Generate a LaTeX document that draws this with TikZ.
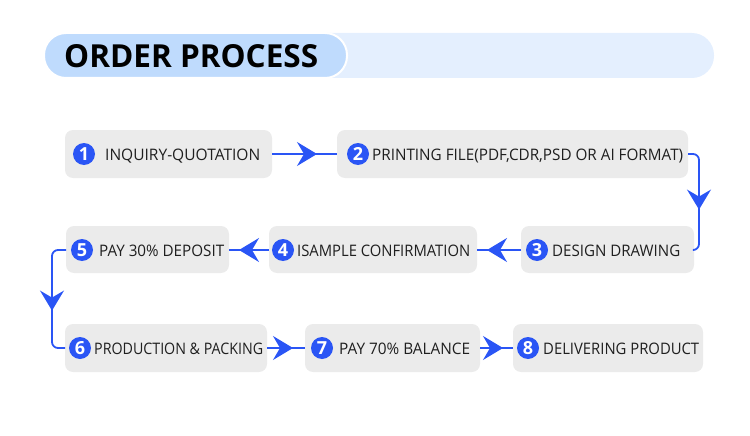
\documentclass[tikz,border=0pt]{standalone}
\usepackage{fontspec}
\setmainfont{Open Sans}
\newfontfamily\hdrfont{Open Sans}
\usetikzlibrary{arrows.meta,decorations.markings}
\definecolor{boxgray}{HTML}{EBEBEB}
\definecolor{flowblue}{HTML}{2A55F5}
\definecolor{hdrdark}{HTML}{BFDBFD}
\definecolor{hdrlight}{HTML}{E4EFFE}
\tikzset{
  stepbox/.style={fill=boxgray, rounded corners=8pt},
  numdot/.style={circle, fill=flowblue, inner sep=0pt, minimum size=22pt, text=white, font=\fontsize{18}{18}\selectfont\bfseries},
  lbl/.style={anchor=west, inner sep=0pt, text=black!88},
  flow/.style={draw=flowblue, line width=1.8pt},
  tipat/.style={postaction={decorate}, decoration={markings, mark=at position #1 with {\arrow{Stealth[length=20pt,width=24pt,inset=7pt]}}}}
}
\newcommand{\boxtext}[2]{\resizebox{#1pt}{11.5pt}{#2}}
\begin{document}
\begin{tikzpicture}[x=1pt,y=-1pt]
\useasboundingbox (0,0) rectangle (750,436);
% header
\fill[hdrlight, rounded corners=22pt] (44,33) rectangle (714,78);
\filldraw[fill=hdrdark, draw=white, line width=2pt, rounded corners=22pt] (44,33) rectangle (347,78);
\node[anchor=west, inner sep=0pt] (title) at (64,56) {\resizebox{254pt}{23pt}{\hdrfont\bfseries ORDER PROCESS}};
% boxes
\path[stepbox] (65,130) rectangle (272,178);
\path[stepbox] (337,130) rectangle (688,178);
\path[stepbox] (521,226) rectangle (694,273);
\path[stepbox] (269,226) rectangle (477,273);
\path[stepbox] (66,226) rectangle (229,273);
\path[stepbox] (65,324) rectangle (267,372);
\path[stepbox] (305,324) rectangle (480,372);
\path[stepbox] (513,324) rectangle (703,372);
% anchors of boxes
\coordinate (b1w) at (65,154); \coordinate (b1e) at (272,154);
\coordinate (b2w) at (337,154); \coordinate (b2e) at (688,154);
\coordinate (b3w) at (521,250); \coordinate (b3e) at (694,250);
\coordinate (b4w) at (269,250); \coordinate (b4e) at (477,250);
\coordinate (b5w) at (66,250); \coordinate (b5e) at (229,250);
\coordinate (b6w) at (65,348); \coordinate (b6e) at (267,348);
\coordinate (b7w) at (305,348); \coordinate (b7e) at (480,348);
\coordinate (b8w) at (513,348); \coordinate (b8e) at (703,348);
% numbers
\node[numdot] (n1) at (84,154) {1};
\node[numdot] (n2) at (358,154) {2};
\node[numdot] (n3) at (537,250) {3};
\node[numdot] (n4) at (283,250) {4};
\node[numdot] (n5) at (82,250) {5};
\node[numdot] (n6) at (80,348) {6};
\node[numdot] (n7) at (322,348) {7};
\node[numdot] (n8) at (528,348) {8};
% labels
\node[lbl, anchor=base west] (t1) at (105,160) {\boxtext{155}{INQUIRY-QUOTATION}};
\node[lbl, anchor=base west] (t2) at (372,160) {\boxtext{311}{PRINTING FILE(PDF,CDR,PSD OR AI FORMAT)}};
\node[lbl, anchor=base west] (t3) at (552,256) {\boxtext{128}{DESIGN DRAWING}};
\node[lbl, anchor=base west] (t4) at (297,256) {\boxtext{173}{ISAMPLE CONFIRMATION}};
\node[lbl, anchor=base west] (t5) at (99,256) {\boxtext{125}{PAY 30\% DEPOSIT}};
\node[lbl, anchor=base west] (t6) at (94,354) {\boxtext{169}{PRODUCTION \& PACKING}};
\node[lbl, anchor=base west] (t7) at (339,354) {\boxtext{131}{PAY 70\% BALANCE}};
\node[lbl, anchor=base west] (t8) at (543,354) {\boxtext{156}{DELIVERING PRODUCT}};
% connectors
\draw[flow, tipat=45pt] (b1e) -- (b2w);
\draw[flow, rounded corners=6pt, tipat=64pt] (b2e) -- ++(11,0) |- (b3e);
\draw[flow, tipat=34pt] (b3w) -- (b4e);
\draw[flow, tipat=30pt] (b4w) -- (b5e);
\draw[flow, rounded corners=6pt, tipat=72pt] (b5w) -- ++(-14,0) |- (b6w);
\draw[flow, tipat=26pt] (b6e) -- (b7w);
\draw[flow, tipat=23pt] (b7e) -- (b8w);
\end{tikzpicture}
\end{document}
